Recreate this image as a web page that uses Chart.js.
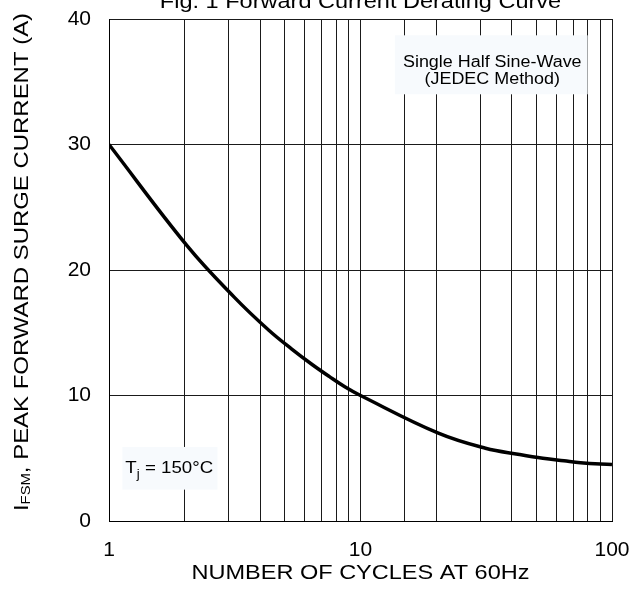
<!DOCTYPE html>
<html>
<head>
<meta charset="utf-8">
<script src="https://cdn.jsdelivr.net/npm/chart.js@4"></script>
<style>
  html, body { margin: 0; padding: 0; background: #fff; }
  canvas { display: block; }
</style>
</head>
<body>
<canvas id="grafico" width="629" height="592"></canvas>
<script>
// Datos
const ciclos = [1, 2.05, 3.16, 4.32, 5.33, 6.44, 7.53, 8.66, 10, 20.4, 31.4, 42.9, 53.1, 64.4, 75, 100];
const corriente = [30, 21.9, 17.8, 15.2, 13.7, 12.45, 11.5, 10.7, 10, 7.0, 5.8, 5.3, 5.0, 4.8, 4.65, 4.5];
const etiquetasX = [1, 10, 100];
const pasoY = 10;

const FUENTE = '"Liberation Sans", Arial, sans-serif';

// Texto con un poco de ensanche horizontal, como en la figura
const texto = (ctx, str, x, y, size, align = 'center', estirar = 1.12) => {
  ctx.save();
  ctx.font = `${size}px ${FUENTE}`;
  ctx.fillStyle = '#000';
  ctx.textAlign = align;
  ctx.textBaseline = 'middle';
  ctx.translate(x, y);
  ctx.scale(estirar, 1);
  ctx.fillText(str, 0, 0);
  ctx.restore();
};

const ancho = (ctx, str, size) => {
  ctx.font = `${size}px ${FUENTE}`;
  return ctx.measureText(str).width;
};

// Cajas de notas y titulos
const notas = {
  id: 'notas',
  beforeDatasetsDraw(chart) {
    const { ctx, scales: { x, y } } = chart;
    ctx.save();
    ctx.fillStyle = '#f7fafd';
    // caja "Single Half Sine-Wave"
    const x0 = x.getPixelForValue(13.7), x1 = x.getPixelForValue(80);
    const y0 = y.getPixelForValue(38.7), y1 = y.getPixelForValue(34);
    ctx.fillRect(x0, y0, x1 - x0, y1 - y0);
    texto(ctx, 'Single Half Sine-Wave', (x0 + x1) / 2 + 1, y0 + 27, 16);
    texto(ctx, '(JEDEC Method)', (x0 + x1) / 2 + 1, y0 + 44, 16);
    // caja Tj
    const a0 = x.getPixelForValue(1.13), a1 = x.getPixelForValue(2.7);
    const b0 = y.getPixelForValue(5.9), b1 = y.getPixelForValue(2.5);
    ctx.fillStyle = '#f7fafd';
    ctx.fillRect(a0, b0, a1 - a0, b1 - b0);
    const cy = (b0 + b1) / 2;
    let px = a0 + 3;
    const s = 1.1;
    texto(ctx, 'T', px, cy, 17, 'left', s);
    px += ancho(ctx, 'T', 17) * s;
    texto(ctx, 'j', px, cy + 6, 12, 'left', s);
    px += ancho(ctx, 'j', 12) * s;
    texto(ctx, ' = 150\u00B0C', px, cy, 17, 'left', s);
    ctx.restore();
  },
  afterDraw(chart) {
    const { ctx, chartArea } = chart;
    const cx = (chartArea.left + chartArea.right) / 2;
    texto(ctx, 'Fig. 1 Forward Current Derating Curve', cx, 2, 21);
    texto(ctx, 'NUMBER OF CYCLES AT 60Hz', cx, 573, 21);

    // titulo del eje Y con subindice
    const s = 1.14;
    const partes = [
      { t: 'I', size: 21, dy: 0 },
      { t: 'FSM', size: 13, dy: 2 },
      { t: ', PEAK FORWARD SURGE CURRENT (A)', size: 21, dy: 0 },
    ];
    const total = partes.reduce((acc, p) => acc + ancho(ctx, p.t, p.size) * s, 0);
    ctx.save();
    ctx.translate(28, 262);
    ctx.rotate(-Math.PI / 2);
    let pos = -total / 2;
    partes.forEach(p => {
      ctx.save();
      ctx.font = `${p.size}px ${FUENTE}`;
      ctx.fillStyle = '#000';
      ctx.textAlign = 'left';
      ctx.textBaseline = 'alphabetic';
      ctx.translate(pos, p.dy);
      ctx.scale(s, 1);
      ctx.fillText(p.t, 0, 0);
      ctx.restore();
      pos += ancho(ctx, p.t, p.size) * s;
    });
    ctx.restore();
  }
};

const crearGrafico = () => {
  const data = {
    datasets: [{
      data: ciclos.map((c, i) => ({ x: c, y: corriente[i] })),
      borderColor: '#000',
      borderWidth: 3.5,
      pointRadius: 0,
      tension: 0.4,
      fill: false,
    }]
  };
  const config = {
    type: 'line',
    data: data,
    options: {
      responsive: false,
      animation: false,
      devicePixelRatio: 1,
      layout: { padding: { top: 19, left: 0, right: 17, bottom: 0 } },
      plugins: {
        legend: { display: false },
        tooltip: { enabled: false },
        title: { display: false },
      },
      scales: {
        x: {
          type: 'logarithmic',
          min: 1,
          max: 100,
          afterFit: (scale) => {
            scale.height = 71;
            scale.paddingLeft = 0;
            scale.paddingRight = 0;
          },
          grid: { color: '#1a1a1a', lineWidth: 1, drawTicks: false },
          border: { color: '#000', width: 1 },
          ticks: {
            autoSkip: false,
            maxRotation: 0,
            padding: 17,
            color: '#000',
            font: { family: FUENTE, size: 21 },
            callback: (v) => etiquetasX.includes(v) ? String(v) : '',
          },
        },
        y: {
          min: 0,
          max: 40,
          afterFit: (scale) => {
            scale.width = 109;
            scale.paddingTop = 0;
            scale.paddingBottom = 0;
          },
          grid: { color: '#1a1a1a', lineWidth: 1, drawTicks: false },
          border: { color: '#000', width: 1 },
          ticks: {
            stepSize: pasoY,
            padding: 18,
            color: '#000',
            font: { family: FUENTE, size: 21 },
          },
        },
      },
    },
    plugins: [notas],
  };
  const ctx = document.querySelector('#grafico').getContext('2d');
  new Chart(ctx, config);
};

crearGrafico();
</script>
</body>
</html>
